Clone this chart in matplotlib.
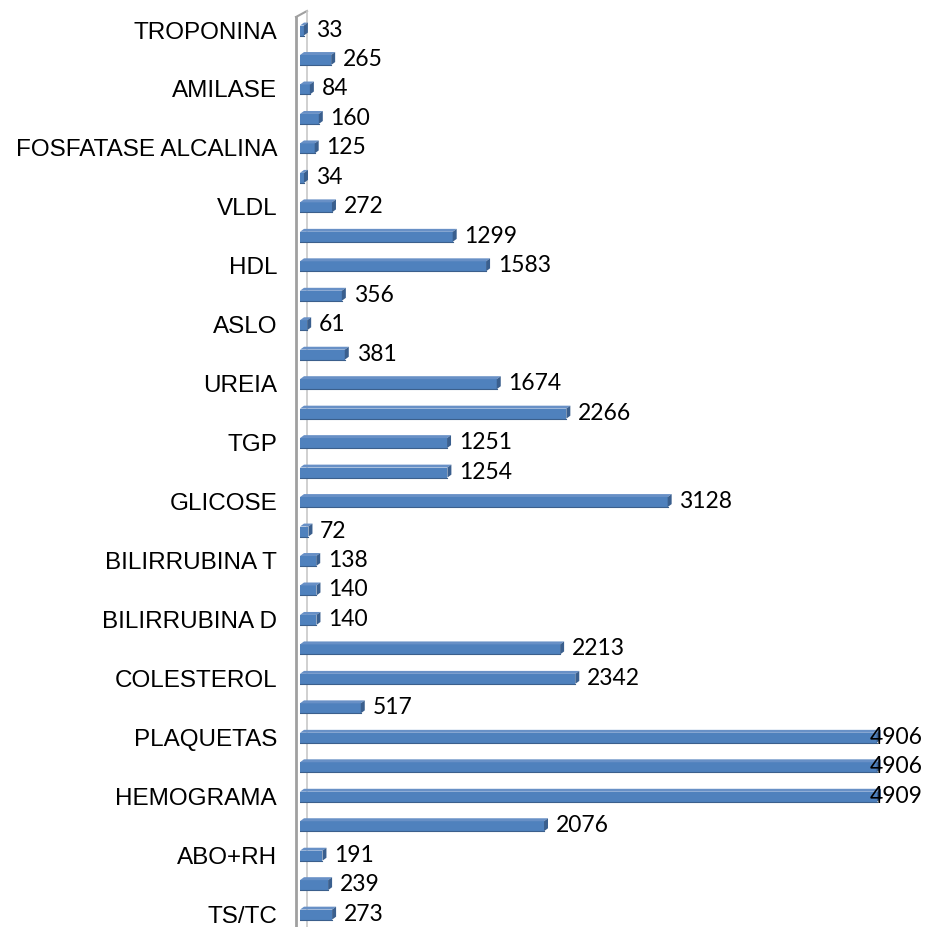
import numpy as np
import matplotlib.pyplot as plt
from matplotlib.patches import Polygon
from matplotlib.lines import Line2D

# categorias de cima para baixo (as que nao aparecem com rotulo ficam vazias)
categorias = ["TROPONINA", "", "AMILASE", "", "FOSFATASE ALCALINA", "", "VLDL", "",
              "HDL", "", "ASLO", "", "UREIA", "", "TGP", "", "GLICOSE", "",
              "BILIRRUBINA T", "", "BILIRRUBINA D", "", "COLESTEROL", "",
              "PLAQUETAS", "", "HEMOGRAMA", "", "ABO+RH", "", "TS/TC"]
valores = [33, 265, 84, 160, 125, 34, 272, 1299, 1583, 356, 61, 381, 1674, 2266,
           1251, 1254, 3128, 72, 138, 140, 140, 2213, 2342, 517, 4906, 4906, 4909,
           2076, 191, 239, 273]

n = len(valores)
pos = np.arange(n)[::-1]

cor_frente = "#4F81BD"
cor_topo = "#6890C6"
cor_lado = "#3A5F8E"

fig = plt.figure(figsize=(9.26, 9.28), dpi=100)
W, H = 926, 928
ax = fig.add_axes([300 / W, 0, 626 / W, 1])
ax.set_xlim(0, 5326)
ax.set_ylim(-0.47, 31.02)

# profundidade do efeito 3D (em unidades de dados)
dx = 34
dy = 0.10
h = 0.34

for y, v in zip(pos, valores):
    y0 = y - h / 2 - dy / 2
    y1 = y0 + h
    ax.add_patch(Polygon([(0, y0), (v, y0), (v, y1), (0, y1)], closed=True,
                         facecolor=cor_frente, edgecolor="none", zorder=3))
    ax.add_patch(Polygon([(0, y1), (v, y1), (v + dx, y1 + dy), (dx, y1 + dy)], closed=True,
                         facecolor=cor_topo, edgecolor="none", zorder=3))
    ax.add_patch(Polygon([(v, y0), (v + dx, y0 + dy), (v + dx, y1 + dy), (v, y1)], closed=True,
                         facecolor=cor_lado, edgecolor="none", zorder=3))
    ax.plot([0, v], [y0, y0], color="#3B5F8C", lw=0.8, zorder=4)
    ax.text(min(v + 100, 4850), y, str(v), va="center", ha="left",
            fontsize=16.5, family="Lato", zorder=5)

ax.set_yticks(pos)
ax.set_yticklabels(categorias, fontsize=17.5, family="Liberation Sans")
ax.tick_params(axis="y", length=0, pad=16.5)
ax.set_xticks([])
ax.patch.set_visible(False)
for s in ax.spines.values():
    s.set_visible(False)

# parede lateral cinza do grafico 3D (atras das barras)
def fx(px):
    return px / W

def fy(py):
    return 1 - py / H

for xs, ys, c, lw in [
    ([296, 296], [18, 930], "#A0A0A0", 2.0),
    ([296, 307], [18, 12], "#A0A0A0", 1.5),
    ([307, 307], [12, 930], "#C8C8C8", 1.2),
]:
    fig.add_artist(Line2D([fx(x) for x in xs], [fy(y) for y in ys], color=c, lw=lw, zorder=-1))

fig.savefig("out.png", dpi=100)
